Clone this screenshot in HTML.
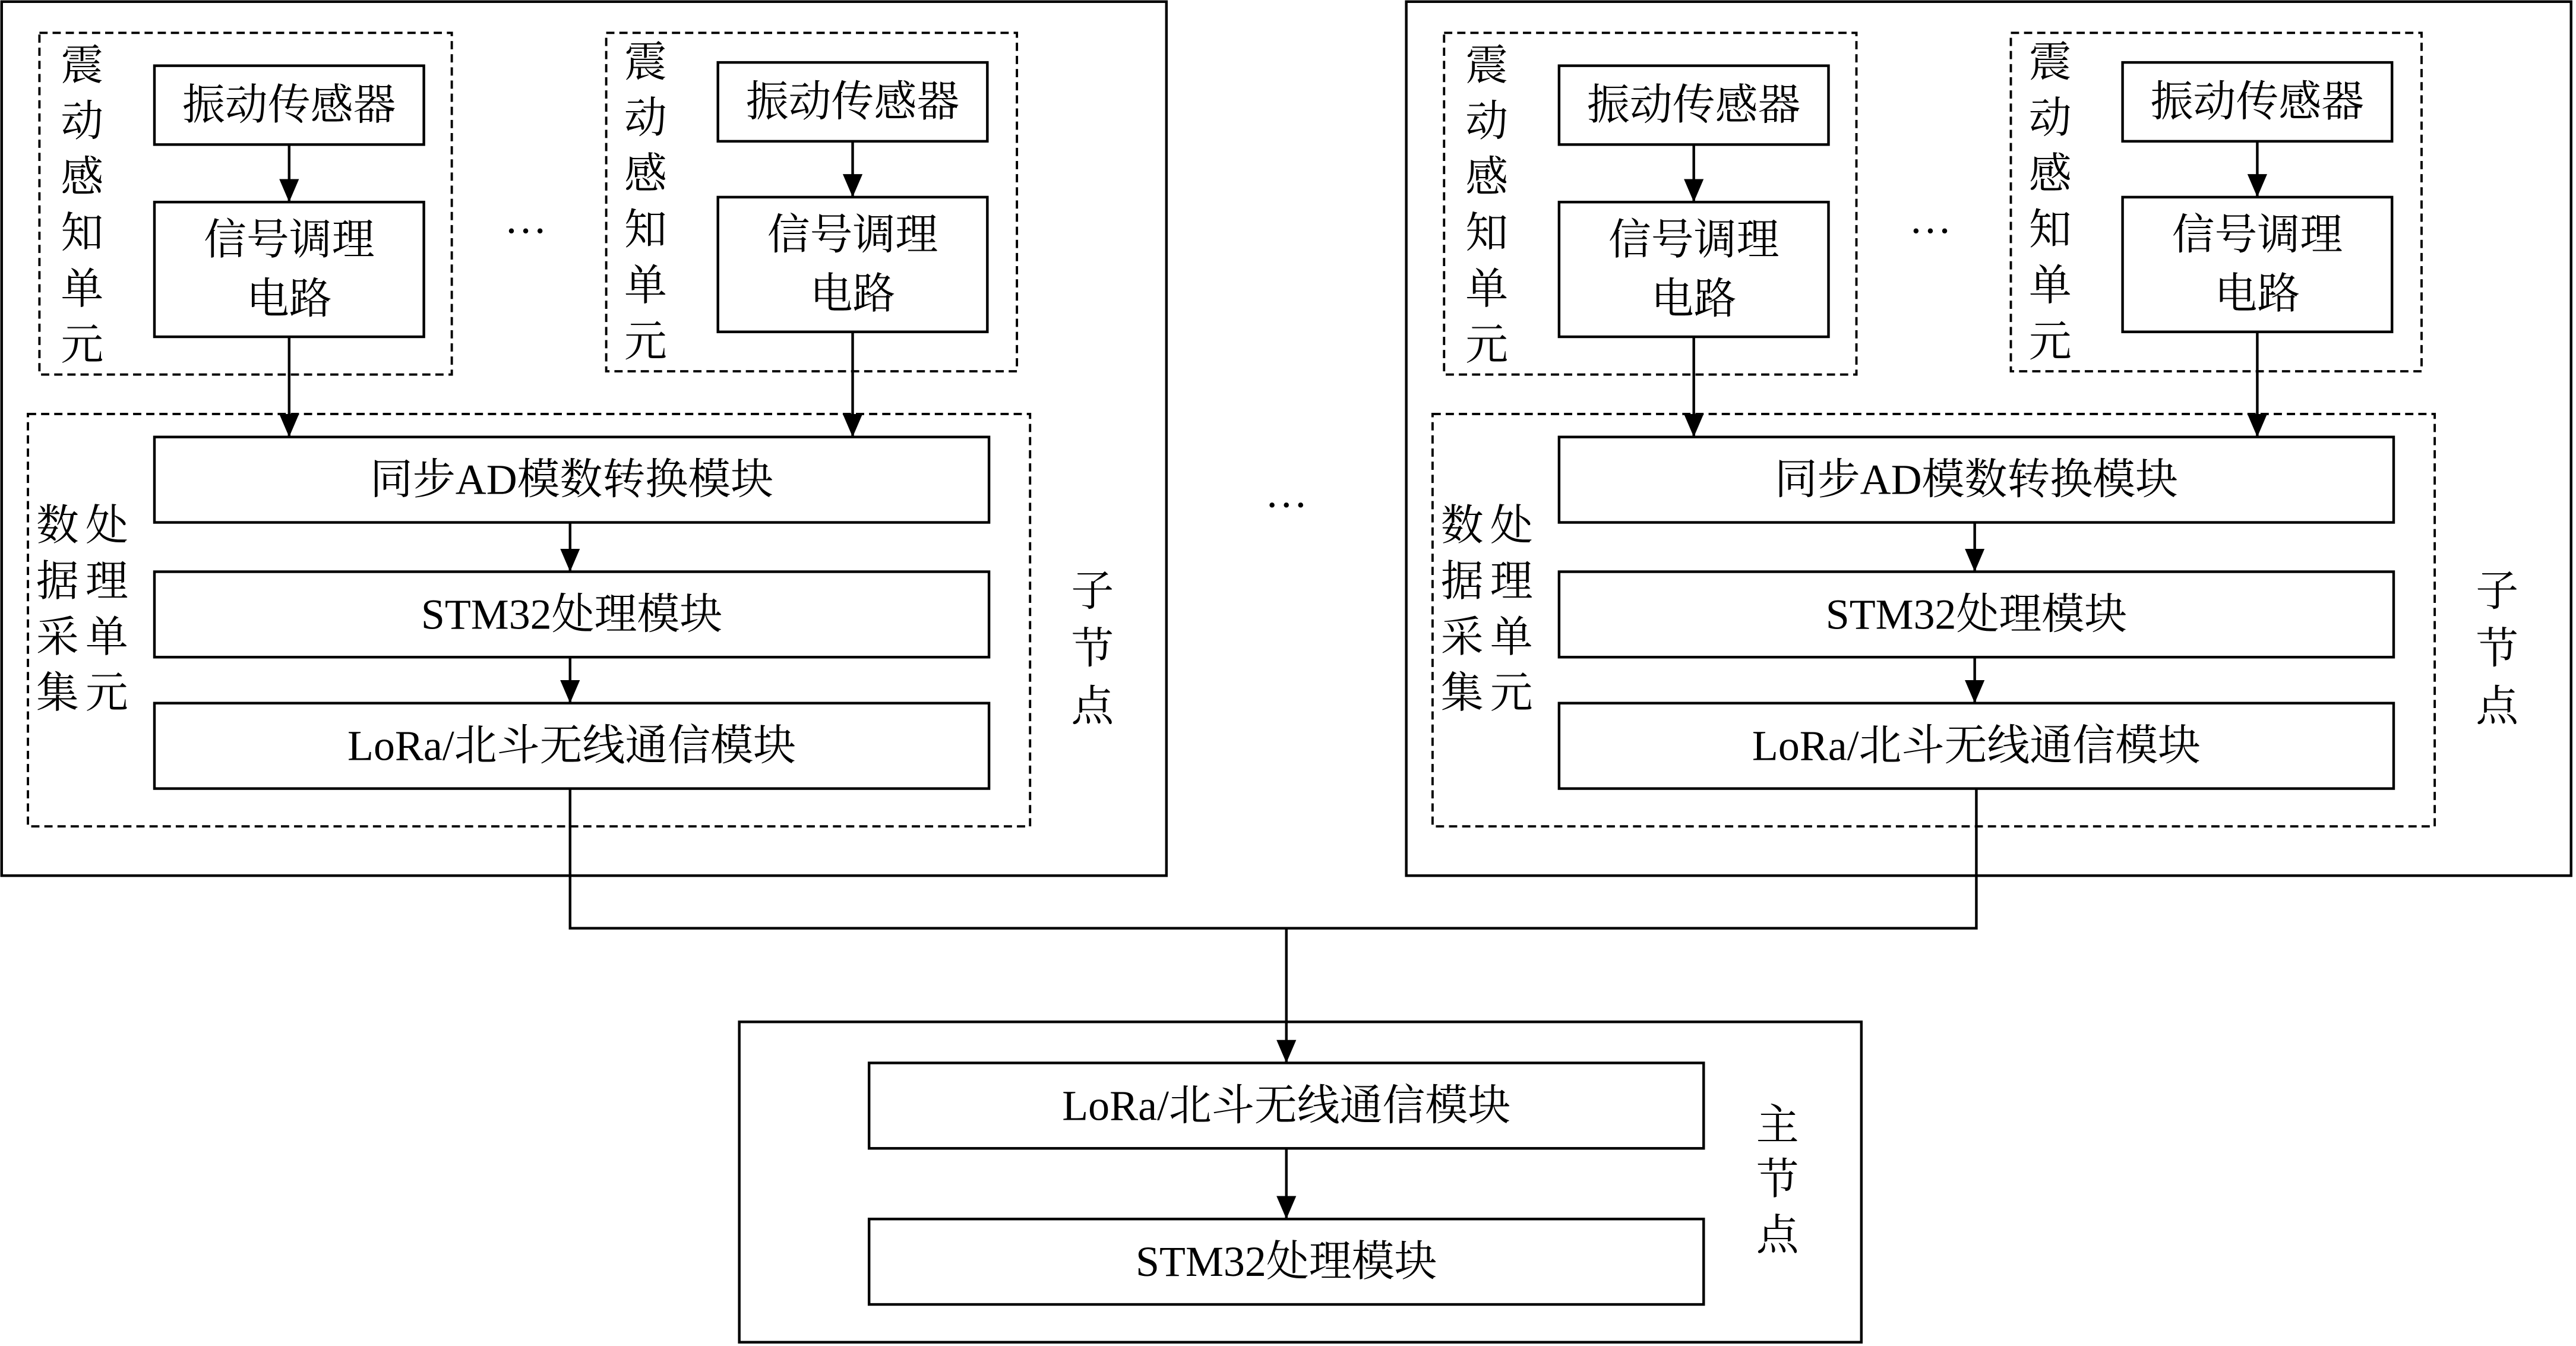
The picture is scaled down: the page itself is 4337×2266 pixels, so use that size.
<!DOCTYPE html>
<html><head><meta charset="utf-8"><style>
html,body{margin:0;padding:0;background:#fff;}
svg{display:block;}
text{font-family:"Liberation Serif","Noto Serif CJK SC",serif;font-size:26px;fill:#000;text-anchor:middle;dominant-baseline:central;}
.b{fill:none;stroke:#000;stroke-width:1.6;}
.d{fill:none;stroke:#000;stroke-width:1.4;stroke-dasharray:5 3;}
.l{stroke:#000;stroke-width:1.6;fill:none;}
</style></head><body>
<svg width="4337" height="2266" viewBox="0 0 1568 819.3" preserveAspectRatio="none" xmlns="http://www.w3.org/2000/svg">
<defs>
<marker id="a" markerWidth="16" markerHeight="14" refX="14" refY="6" orient="auto" markerUnits="userSpaceOnUse"><path d="M0,0 L14,6 L0,12 z" fill="#000"/></marker>
<g id="node">
<rect class="b" x="1" y="1" width="709" height="532"/>
<rect class="d" x="24" y="20" width="251" height="208"/>
<text x="50" y="40">震</text><text x="50" y="74">动</text><text x="50" y="108">感</text><text x="50" y="142">知</text><text x="50" y="176">单</text><text x="50" y="210">元</text>
<rect class="b" x="94" y="40" width="164" height="48"/><text x="176" y="64">振动传感器</text>
<rect class="b" x="94" y="123" width="164" height="82"/><text x="176" y="146">信号调理</text><text x="176" y="182">电路</text>
<rect class="d" x="369" y="20" width="250" height="206"/>
<text x="393" y="38">震</text><text x="393" y="72">动</text><text x="393" y="106">感</text><text x="393" y="140">知</text><text x="393" y="174">单</text><text x="393" y="208">元</text>
<rect class="b" x="437" y="38" width="164" height="48"/><text x="519" y="62">振动传感器</text>
<rect class="b" x="437" y="120" width="164" height="82"/><text x="519" y="143">信号调理</text><text x="519" y="179">电路</text>
<text x="320" y="133">…</text>
<rect class="d" x="17" y="252" width="610" height="251"/>
<text x="35" y="320">数</text><text x="65" y="320">处</text>
<text x="35" y="354">据</text><text x="65" y="354">理</text>
<text x="35" y="388">采</text><text x="65" y="388">单</text>
<text x="35" y="422">集</text><text x="65" y="422">元</text>
<rect class="b" x="94" y="266" width="508" height="52"/><text x="348" y="292">同步AD模数转换模块</text>
<rect class="b" x="94" y="348" width="508" height="52"/><text x="348" y="374">STM32处理模块</text>
<rect class="b" x="94" y="428" width="508" height="52"/><text x="348" y="454">LoRa/北斗无线通信模块</text>
<text x="665" y="360">子</text><text x="665" y="395">节</text><text x="665" y="430">点</text>
<line class="l" x1="176" y1="88" x2="176" y2="123" marker-end="url(#a)"/>
<line class="l" x1="176" y1="205" x2="176" y2="266" marker-end="url(#a)"/>
<line class="l" x1="519" y1="86" x2="519" y2="120" marker-end="url(#a)"/>
<line class="l" x1="519" y1="202" x2="519" y2="266" marker-end="url(#a)"/>
<line class="l" x1="347" y1="318" x2="347" y2="348" marker-end="url(#a)"/>
<line class="l" x1="347" y1="400" x2="347" y2="428" marker-end="url(#a)"/>
</g>
</defs>
<use href="#node"/>
<use href="#node" transform="translate(855,0)"/>
<text x="783" y="300">…</text>
<polyline class="l" points="347,480 347,565 1203,565 1203,480"/>
<line class="l" x1="783" y1="565" x2="783" y2="647" marker-end="url(#a)"/>
<rect class="b" x="450" y="622" width="683" height="195"/>
<rect class="b" x="529" y="647" width="508" height="52"/><text x="783" y="673">LoRa/北斗无线通信模块</text>
<rect class="b" x="529" y="742" width="508" height="52"/><text x="783" y="768">STM32处理模块</text>
<line class="l" x1="783" y1="699" x2="783" y2="742" marker-end="url(#a)"/>
<text x="1082" y="685">主</text><text x="1082" y="718">节</text><text x="1082" y="752">点</text>
</svg>
</body></html>
